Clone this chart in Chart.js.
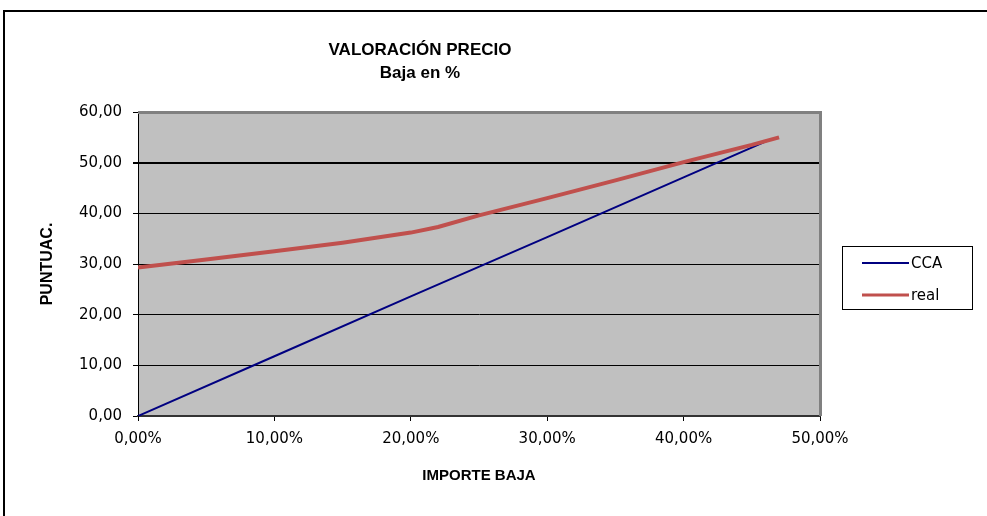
<!DOCTYPE html>
<html>
<head>
<meta charset="utf-8">
<script src="https://cdn.jsdelivr.net/npm/chart.js@4"></script>
<style>
  html, body { margin: 0; padding: 0; background: #fff; }
  #wrap { width: 987px; height: 516px; }
</style>
</head>
<body>
<div id="wrap"><canvas id="grafico" width="987" height="516"></canvas></div>
<script>
// ===== Datos =====
const titulo = ['VALORACIÓN PRECIO', 'Baja en %'];
const ejeX = 'IMPORTE BAJA';
const ejeY = 'PUNTUAC.';

const ccaX = [0, 10, 20, 30, 40, 46.2];
const ccaY = [0, 11.8, 23.6, 35.3, 47.1, 54.4];

const realX = [0, 5, 10, 15, 20, 22, 25, 30, 35, 40, 45, 47];
const realY = [29.3, 30.9, 32.5, 34.2, 36.2, 37.3, 39.6, 43.0, 46.5, 50.1, 53.5, 55.0];

const ticksX = [0, 10, 20, 30, 40, 50];
const ticksY = [0, 10, 20, 30, 40, 50, 60];

// ===== Helpers =====
const fmtNum = n => n.toFixed(2).replace('.', ',');
const pares = (xs, ys) => xs.map((x, i) => ({ x, y: ys[i] }));

const FUENTE = '"DejaVu Sans", sans-serif';
const FUENTE_B = '"Liberation Sans", Arial, sans-serif';

// fondo, marco exterior, área gris, título y leyenda
const marco = {
  id: 'marco',
  beforeDraw(chart) {
    const { ctx, chartArea: a } = chart;
    ctx.save();
    ctx.fillStyle = '#fff';
    ctx.fillRect(0, 0, chart.width, chart.height);
    ctx.fillStyle = '#000';
    ctx.fillRect(3, 10, chart.width - 3, 2);
    ctx.fillRect(3, 10, 2, chart.height - 10);
    ctx.fillStyle = '#C0C0C0';
    ctx.fillRect(a.left, a.top, a.right - a.left, a.bottom - a.top);
    ctx.restore();
  },
  beforeDatasetsDraw(chart) {
    const { ctx, chartArea: a } = chart;
    ctx.save();
    ctx.fillStyle = '#808080';
    ctx.fillRect(a.left, a.top - 1, a.right - a.left + 1, 3);
    ctx.fillRect(a.right - 1, a.top - 1, 3, a.bottom - a.top + 1);
    ctx.restore();
  },
  afterDraw(chart) {
    const { ctx } = chart;
    ctx.save();
    // título
    ctx.fillStyle = '#000';
    ctx.textAlign = 'center';
    ctx.textBaseline = 'alphabetic';
    ctx.font = 'bold 17px ' + FUENTE_B;
    ctx.fillText(titulo[0], 420, 55);
    ctx.fillText(titulo[1], 420, 78);

    // leyenda
    ctx.strokeStyle = '#000';
    ctx.lineWidth = 1;
    ctx.strokeRect(842.5, 246.5, 130, 63);
    ctx.font = '15px ' + FUENTE;
    ctx.textAlign = 'left';
    ctx.textBaseline = 'middle';
    const ds = chart.data.datasets;
    [0, 1].forEach((i, k) => {
      const y = 263 + k * 32;
      ctx.strokeStyle = ds[i].borderColor;
      ctx.lineWidth = i === 0 ? 2 : 3;
      ctx.beginPath();
      ctx.moveTo(862, y);
      ctx.lineTo(909, y);
      ctx.stroke();
      ctx.fillStyle = '#000';
      ctx.fillText(ds[i].label, 911, y + 1);
    });
    ctx.restore();
  }
};

new Chart(document.getElementById('grafico'), {
  type: 'scatter',
  data: {
    datasets: [
      {
        label: 'CCA',
        data: pares(ccaX, ccaY),
        showLine: true,
        borderColor: '#000080',
        borderWidth: 2,
        pointRadius: 0,
        tension: 0,
        order: 1
      },
      {
        label: 'real',
        data: pares(realX, realY),
        showLine: true,
        borderColor: '#C0504D',
        borderWidth: 4,
        pointRadius: 0,
        tension: 0,
        order: 0
      }
    ]
  },
  options: {
    responsive: false,
    animation: false,
    devicePixelRatio: 1,
    layout: { padding: { left: 0, top: 112, right: 167, bottom: 0 } },
    plugins: {
      legend: { display: false },
      title: { display: false },
      tooltip: { enabled: false }
    },
    scales: {
      x: {
        type: 'linear',
        min: ticksX[0],
        max: ticksX[ticksX.length - 1],
        afterBuildTicks: s => { s.ticks = ticksX.map(v => ({ value: v })); },
        afterFit: s => { s.height = 100; },
        grid: { drawOnChartArea: false, drawTicks: true, tickLength: 5, color: '#000' },
        border: { color: '#333', width: 2 },
        ticks: {
          padding: 9,
          color: '#000',
          font: { family: FUENTE, size: 15 },
          maxRotation: 0,
          callback: v => fmtNum(v) + '%'
        },
        title: {
          display: true,
          text: ejeX,
          color: '#000',
          font: { family: FUENTE_B, size: 15, weight: 'bold' },
          padding: { top: 0, bottom: 31 }
        }
      },
      y: {
        type: 'linear',
        min: ticksY[0],
        max: ticksY[ticksY.length - 1],
        afterBuildTicks: s => { s.ticks = ticksY.map(v => ({ value: v })); },
        afterFit: s => { s.width = 138; },
        grid: {
          tickLength: 5,
          color: ctx => ctx.tick && ctx.tick.value === 60 ? 'rgba(0,0,0,0)' : '#000',
          tickColor: '#000',
          lineWidth: ctx => ctx.tick && ctx.tick.value === 50 ? 2 : 1
        },
        border: { color: '#000', width: 1 },
        ticks: {
          padding: 11,
          color: '#000',
          font: { family: FUENTE, size: 15 },
          callback: v => fmtNum(v)
        },
        title: {
          display: true,
          text: ejeY,
          color: '#000',
          font: { family: FUENTE_B, size: 16, weight: 'bold' },
          padding: { top: 38, bottom: 0 }
        }
      }
    }
  },
  plugins: [marco]
});
</script>
</body>
</html>
